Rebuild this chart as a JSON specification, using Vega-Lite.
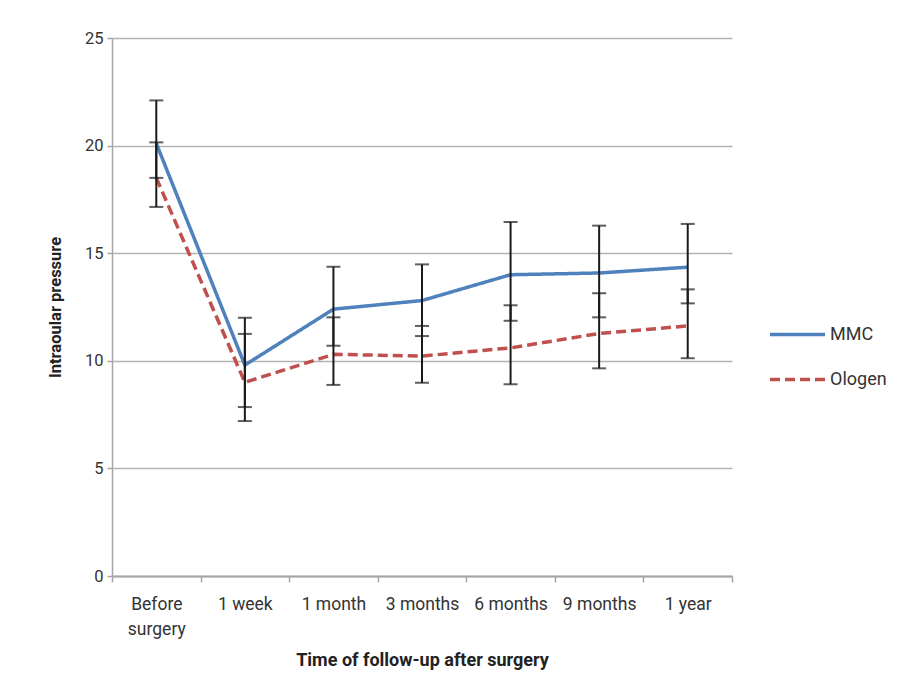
{
  "$schema": "https://vega.github.io/schema/vega-lite/v6.json",
  "width": 620,
  "height": 538,
  "autosize": {"type": "none"},
  "padding": {"left": 112, "top": 38, "right": 178, "bottom": 118},
  "background": "white",
  "config": {
    "view": {"stroke": null},
    "font": "Roboto",
    "axis": {"labelFont": "Roboto", "titleFont": "Roboto", "labelColor": "#333333", "titleColor": "#222222"}
  },
  "data": {
    "values": [
      {"time": "Before surgery", "group": "MMC", "mean": 20.1, "low": 18.5, "high": 22.1},
      {"time": "1 week", "group": "MMC", "mean": 9.8, "low": 7.85, "high": 12.0},
      {"time": "1 month", "group": "MMC", "mean": 12.4, "low": 10.7, "high": 14.37},
      {"time": "3 months", "group": "MMC", "mean": 12.8, "low": 11.15, "high": 14.48},
      {"time": "6 months", "group": "MMC", "mean": 14.0, "low": 11.86, "high": 16.45},
      {"time": "9 months", "group": "MMC", "mean": 14.08, "low": 12.02, "high": 16.28},
      {"time": "1 year", "group": "MMC", "mean": 14.35, "low": 12.67, "high": 16.36},
      {"time": "Before surgery", "group": "Ologen", "mean": 18.5, "low": 17.15, "high": 20.15},
      {"time": "1 week", "group": "Ologen", "mean": 9.0, "low": 7.2, "high": 11.25},
      {"time": "1 month", "group": "Ologen", "mean": 10.3, "low": 8.88, "high": 12.02},
      {"time": "3 months", "group": "Ologen", "mean": 10.22, "low": 8.98, "high": 11.62},
      {"time": "6 months", "group": "Ologen", "mean": 10.6, "low": 8.91, "high": 12.58},
      {"time": "9 months", "group": "Ologen", "mean": 11.27, "low": 9.65, "high": 13.14},
      {"time": "1 year", "group": "Ologen", "mean": 11.62, "low": 10.12, "high": 13.32}
    ]
  },
  "encoding": {
    "x": {
      "field": "time",
      "type": "nominal",
      "sort": ["Before surgery", "1 week", "1 month", "3 months", "6 months", "9 months", "1 year"],
      "scale": {"paddingInner": 0, "paddingOuter": 0},
      "axis": {
        "title": "Time of follow-up after surgery",
        "titleFontSize": 18,
        "titleFontWeight": "bold",
        "titleY": 84,
        "titleBaseline": "middle",
        "labelAngle": 0,
        "labelFontSize": 17.5,
        "labelPadding": 13,
        "labelLineHeight": 25,
        "labelExpr": "datum.label == 'Before surgery' ? ['Before', 'surgery'] : datum.label",
        "tickBand": "extent",
        "tickSize": 6,
        "tickColor": "#a6a6a6",
        "tickWidth": 1.5,
        "domainColor": "#a6a6a6",
        "domainWidth": 2,
        "grid": false
      }
    }
  },
  "layer": [
    {
      "mark": {"type": "line", "strokeWidth": 3.5},
      "encoding": {
        "y": {
          "field": "mean",
          "type": "quantitative",
          "scale": {"domain": [0, 25], "nice": false},
          "axis": {
            "title": "Intraoular pressure",
            "titleFontSize": 16.5,
            "titleFontWeight": "bold",
            "titleX": -57,
            "titleBaseline": "middle",
            "values": [0, 5, 10, 15, 20, 25],
            "labelFontSize": 16.5,
            "labelPadding": 4,
            "tickSize": 5,
            "tickColor": "#a6a6a6",
            "tickWidth": 1.5,
            "domainColor": "#a6a6a6",
            "domainWidth": 1.5,
            "grid": true,
            "gridColor": "#b3b3b3",
            "gridWidth": 1.5
          }
        },
        "color": {
          "field": "group",
          "type": "nominal",
          "scale": {"domain": ["MMC", "Ologen"], "range": ["#4f81bd", "#c0504d"]},
          "legend": {
            "title": null,
            "orient": "none",
            "legendX": 656,
            "legendY": 267,
            "symbolType": "stroke",
            "symbolSize": 3025,
            "symbolStrokeWidth": 3.5,
            "labelFontSize": 18,
            "labelColor": "#333333",
            "labelOffset": 3,
            "rowPadding": 6
          }
        },
        "strokeDash": {
          "field": "group",
          "type": "nominal",
          "scale": {"domain": ["MMC", "Ologen"], "range": [[1, 0], [10, 5]]},
          "legend": {
            "title": null,
            "orient": "none",
            "legendX": 656,
            "legendY": 267,
            "symbolType": "stroke",
            "symbolSize": 3025,
            "symbolStrokeWidth": 3.5,
            "labelFontSize": 18,
            "labelColor": "#333333",
            "labelOffset": 3,
            "rowPadding": 6
          }
        }
      }
    },
    {
      "mark": {"type": "rule", "color": "#1a1a1a", "strokeWidth": 2},
      "encoding": {
        "y": {"field": "low", "type": "quantitative"},
        "y2": {"field": "high"}
      }
    },
    {
      "mark": {"type": "tick", "color": "#1a1a1a", "size": 14, "thickness": 2},
      "encoding": {
        "y": {"field": "low", "type": "quantitative"}
      }
    },
    {
      "mark": {"type": "tick", "color": "#1a1a1a", "size": 14, "thickness": 2},
      "encoding": {
        "y": {"field": "high", "type": "quantitative"}
      }
    }
  ]
}
